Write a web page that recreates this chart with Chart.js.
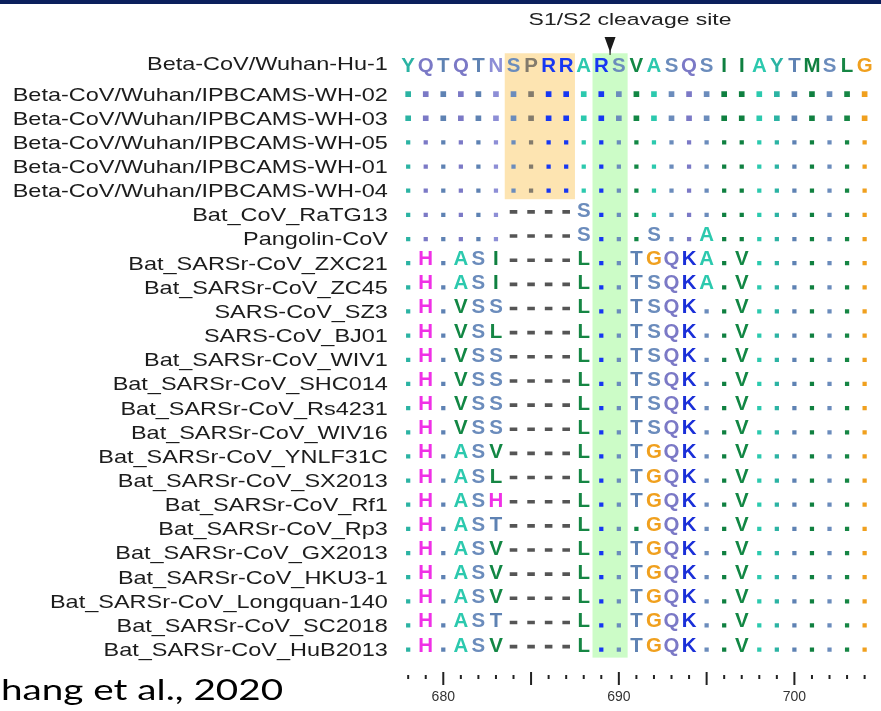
<!DOCTYPE html>
<html><head><meta charset="utf-8">
<script src="https://cdn.jsdelivr.net/npm/chart.js@4/dist/chart.umd.min.js"></script>
<style>
html,body{margin:0;padding:0;background:#fff;}
#wrap{position:relative;width:881px;height:711px;overflow:hidden;}
#topbar{position:absolute;left:0;top:0;width:881px;height:4px;background:#0b1f5c;}
</style></head><body>
<div id="wrap"><canvas id="c" width="881" height="711"></canvas><div id="topbar"></div></div>
<script>
// ---- data ----
const strains = [
  'Beta-CoV/Wuhan-Hu-1',
  'Beta-CoV/Wuhan/IPBCAMS-WH-02',
  'Beta-CoV/Wuhan/IPBCAMS-WH-03',
  'Beta-CoV/Wuhan/IPBCAMS-WH-05',
  'Beta-CoV/Wuhan/IPBCAMS-WH-01',
  'Beta-CoV/Wuhan/IPBCAMS-WH-04',
  'Bat_CoV_RaTG13',
  'Pangolin-CoV',
  'Bat_SARSr-CoV_ZXC21',
  'Bat_SARSr-CoV_ZC45',
  'SARS-CoV_SZ3',
  'SARS-CoV_BJ01',
  'Bat_SARSr-CoV_WIV1',
  'Bat_SARSr-CoV_SHC014',
  'Bat_SARSr-CoV_Rs4231',
  'Bat_SARSr-CoV_WIV16',
  'Bat_SARSr-CoV_YNLF31C',
  'Bat_SARSr-CoV_SX2013',
  'Bat_SARSr-CoV_Rf1',
  'Bat_SARSr-CoV_Rp3',
  'Bat_SARSr-CoV_GX2013',
  'Bat_SARSr-CoV_HKU3-1',
  'Bat_SARSr-CoV_Longquan-140',
  'Bat_SARSr-CoV_SC2018',
  'Bat_SARSr-CoV_HuB2013'
];
const startPos = 678;
const refSeq = 'YQTQTNSPRRARSVASQSIIAYTMSLG';
const alignment = [
  'YQTQTNSPRRARSVASQSIIAYTMSLG',
  '...........................',
  '...........................',
  '...........................',
  '...........................',
  '...........................',
  '......----S................',
  '......----S...S..A.........',
  '.H.ASI----L..TGQKA.V.......',
  '.H.ASI----L..TSQKA.V.......',
  '.H.VSS----L..TSQK..V.......',
  '.H.VSL----L..TSQK..V.......',
  '.H.VSS----L..TSQK..V.......',
  '.H.VSS----L..TSQK..V.......',
  '.H.VSS----L..TSQK..V.......',
  '.H.VSS----L..TSQK..V.......',
  '.H.ASV----L..TGQK..V.......',
  '.H.ASL----L..TGQK..V.......',
  '.H.ASH----L..TGQK..V.......',
  '.H.AST----L...GQK..V.......',
  '.H.ASV----L..TGQK..V.......',
  '.H.ASV----L..TGQK..V.......',
  '.H.ASV----L..TGQK..V.......',
  '.H.AST----L..TGQK..V.......',
  '.H.ASV----L..TGQK..V.......'
];
const tickLabels = [680, 690, 700];
const insertRange = [684, 687];     // orange box columns
const insertRows = [0, 5];
const cleavageRange = [689, 690];   // green box columns
const cleavageSite = 689.5;
const annotationText = 'S1/S2 cleavage site';
const citation = 'hang et al., 2020';

// ---- style ----
const COLORS = {
  Y:'#2bb3a3', Q:'#7b79c6', T:'#5e82b3', N:'#8d8ed6', S:'#6b8cbc', P:'#837b6c',
  R:'#1737f2', A:'#2cc9ae', V:'#128744', I:'#0f8040', M:'#108040', L:'#168644',
  G:'#f0a01e', H:'#f030e6', K:'#1a2fd8'
};
const SX = 1.32;

// ---- build datasets from data ----
const dots = [], dashes = [], letters = [];
alignment.forEach((seq, r) => {
  [...seq].forEach((ch, j) => {
    const pos = startPos + j;
    if (ch === '.') dots.push({x: pos, y: r, res: refSeq[j]});
    else if (ch === '-') dashes.push({x: pos, y: r});
    else letters.push({x: pos, y: r, ch: ch});
  });
});

const rowPx = 24.15;
const dashShift = 3 / rowPx;

const alignPlugin = {
  id: 'alignPlugin',
  beforeDatasetsDraw(chart) {
    const {ctx, scales: {x, y}} = chart;
    ctx.save();
    const top = y.getPixelForValue(0) - 16.7;
    ctx.fillStyle = '#fde4b1';
    let x1 = x.getPixelForValue(insertRange[0] - 0.5), x2 = x.getPixelForValue(insertRange[1] + 0.5);
    ctx.fillRect(x1, top, x2 - x1, y.getPixelForValue(insertRows[1]) + 8.5 - top);
    ctx.fillStyle = '#ccfcc7';
    x1 = x.getPixelForValue(cleavageRange[0] - 0.5); x2 = x.getPixelForValue(cleavageRange[1] + 0.5);
    ctx.fillRect(x1, top, x2 - x1, y.getPixelForValue(strains.length - 1) + 8 - top);
    ctx.restore();
  },
  afterDatasetsDraw(chart) {
    const {ctx, scales: {x, y}, chartArea} = chart;
    ctx.save();
    // residue letters
    const meta = chart.getDatasetMeta(2);
    ctx.font = 'bold 19.5px "Liberation Sans", Arial, sans-serif';
    ctx.textAlign = 'center';
    ctx.textBaseline = 'alphabetic';
    meta.data.forEach((el, i) => {
      const d = letters[i];
      ctx.fillStyle = COLORS[d.ch] || '#333';
      ctx.save();
      ctx.translate(el.x, el.y + 2);
      ctx.scale(1.05, 1);
      ctx.fillText(d.ch, 0, 0);
      ctx.restore();
    });
    // strain labels
    ctx.font = '17.8px "Liberation Sans", Arial, sans-serif';
    ctx.fillStyle = '#1c1c1c';
    ctx.textAlign = 'right';
    ctx.textBaseline = 'middle';
    strains.forEach((s, i) => {
      const py = y.getPixelForValue(i) + (i === 0 ? -5 : 1.5);
      ctx.save();
      ctx.translate(chartArea.left - 11.5, py);
      ctx.scale(SX, 1);
      ctx.fillText(s, 0, 0);
      ctx.restore();
    });
    // position tick marks
    ctx.fillStyle = '#222';
    const b = chartArea.bottom;
    for (let p = startPos; p < startPos + refSeq.length; p++) {
      const px = x.getPixelForValue(p);
      if (p % 5 === 0) ctx.fillRect(px - 1, b + 10.3, 2, 13);
      else ctx.fillRect(px - 1, b + 13.3, 2, 4);
    }
    // cleavage arrow
    const ax = x.getPixelForValue(cleavageSite);
    ctx.fillStyle = '#1a1a1a';
    ctx.beginPath();
    ctx.moveTo(ax - 5.5, 37);
    ctx.lineTo(ax + 5.5, 37);
    ctx.lineTo(ax + 0.8, 50);
    ctx.lineTo(ax + 0.5, 55);
    ctx.lineTo(ax - 0.5, 55);
    ctx.lineTo(ax - 0.8, 50);
    ctx.closePath();
    ctx.fill();
    // annotation
    ctx.font = '17.4px "Liberation Sans", Arial, sans-serif';
    ctx.fillStyle = '#222';
    ctx.textAlign = 'center';
    ctx.textBaseline = 'middle';
    ctx.save();
    ctx.translate(ax + 20, 20.5);
    ctx.scale(SX, 1);
    ctx.fillText(annotationText, 0, 0);
    ctx.restore();
    // citation
    ctx.font = '28px Lato, "Open Sans", sans-serif';
    ctx.fillStyle = '#000';
    ctx.textAlign = 'left';
    ctx.textBaseline = 'alphabetic';
    ctx.save();
    ctx.translate(1, 700);
    ctx.scale(1.38, 1);
    ctx.fillText(citation, 0, 0);
    ctx.restore();
    ctx.restore();
  }
};

new Chart(document.getElementById('c'), {
  type: 'scatter',
  data: {
    datasets: [
      {
        label: 'identical',
        data: dots,
        pointStyle: 'rect',
        pointRadius: ctx => (ctx.raw && ctx.raw.y <= 2) ? 4 : 3,
        backgroundColor: ctx => COLORS[ctx.raw ? ctx.raw.res : 'A'],
        borderWidth: 0,
        yAxisID: 'y'
      },
      {
        label: 'gap',
        data: dashes,
        pointStyle: 'line',
        pointRadius: 3.8,
        borderColor: '#555555',
        borderWidth: 3.6,
        yAxisID: 'y2'
      },
      {
        label: 'substitution',
        data: letters,
        pointRadius: 0,
        yAxisID: 'y'
      }
    ]
  },
  options: {
    responsive: false,
    animation: false,
    events: [],
    layout: { padding: { left: 399.4, right: 3.1, top: 57.9, bottom: 0 } },
    plugins: { legend: { display: false }, tooltip: { enabled: false }, title: { display: false } },
    scales: {
      x: {
        type: 'linear',
        min: startPos - 0.5,
        max: startPos + refSeq.length - 0.5,
        afterBuildTicks: s => { s.ticks = tickLabels.map(v => ({ value: v })); },
        afterFit: s => { s.height = 49.3; },
        grid: { display: false, drawTicks: false },
        border: { display: false },
        ticks: {
          autoSkip: false,
          maxRotation: 0,
          padding: 27.5,
          color: '#333',
          font: { size: 14, family: '"Liberation Sans", Arial, sans-serif' },
          callback: v => String(v)
        }
      },
      y: {
        type: 'linear', reverse: true, display: false,
        min: -0.5, max: strains.length - 0.5
      },
      y2: {
        type: 'linear', reverse: true, display: false,
        min: -0.5 + dashShift, max: strains.length - 0.5 + dashShift
      }
    }
  },
  plugins: [alignPlugin]
});
</script>
</body></html>
